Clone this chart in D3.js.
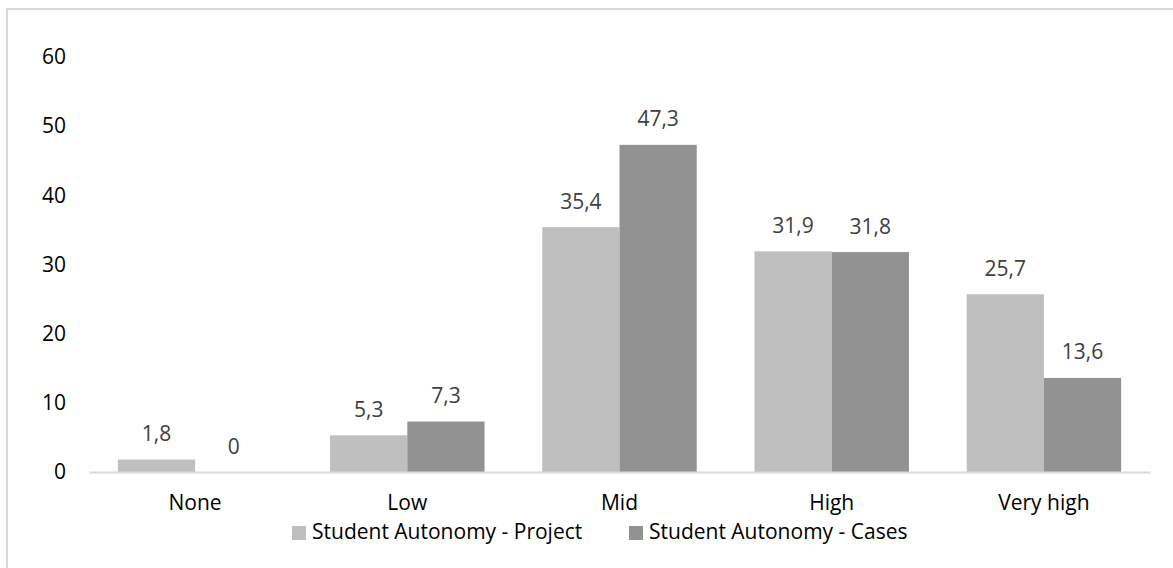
<!DOCTYPE html>
<html>
<head>
<meta charset="utf-8">
<script src="https://cdn.jsdelivr.net/npm/d3@7"></script>
<style>
  html, body { margin: 0; padding: 0; background: #fff; }
  svg { display: block; font-family: "Open Sans", "Noto Sans", sans-serif; }
</style>
</head>
<body>
<svg id="chart" width="1173" height="568"></svg>
<script>
// Autonomy levels and the share (%) per course format
const categories = ["None", "Low", "Mid", "High", "Very high"];
const seriesNames = ["Student Autonomy - Project", "Student Autonomy - Cases"];
const projectValues = [1.8, 5.3, 35.4, 31.9, 25.7];
const casesValues = [0, 7.3, 47.3, 31.8, 13.6];
const yTicks = [0, 10, 20, 30, 40, 50, 60];
const colors = ["#bfbfbf", "#929292"];

const series = [projectValues, casesValues];
const fmt = v => String(v).replace(".", ",");
const FONT = 21;

const svg = d3.select("#chart");
const W = 1173, H = 568;

// chart frame
svg.append("rect")
  .attr("x", 7).attr("y", 9)
  .attr("width", W + 10).attr("height", H + 10)
  .attr("fill", "#fff").attr("stroke", "#d9d9d9").attr("stroke-width", 2);

const plot = { left: 89, right: 1150, top: 57, bottom: 472 };

const x = d3.scaleBand().domain(categories).range([plot.left, plot.right]).paddingInner(0).paddingOuter(0);
const barW = x.bandwidth() * 0.364;
const y = d3.scaleLinear().domain([0, 60]).range([plot.bottom, plot.top]);

// y axis labels (no axis line)
const yAxis = d3.axisLeft(y).tickValues(yTicks).tickSize(0).tickPadding(0);
const gy = svg.append("g").attr("transform", `translate(66,0)`).call(yAxis);
gy.select(".domain").remove();
gy.selectAll("text").attr("font-size", FONT).attr("fill", "#000")
  .attr("font-family", "'Open Sans', sans-serif");

// bars with value labels
series.forEach((vals, si) => {
  const g = svg.append("g");
  g.selectAll("rect").data(vals).join("rect")
    .attr("x", (d, i) => x(categories[i]) + x.bandwidth() / 2 + (si - 1) * barW)
    .attr("y", d => y(d))
    .attr("width", barW)
    .attr("height", d => y(0) - y(d))
    .attr("fill", colors[si]);
  g.selectAll("text").data(vals).join("text")
    .attr("x", (d, i) => x(categories[i]) + x.bandwidth() / 2 + (si - 0.5) * barW)
    .attr("y", d => y(d) - 18.5)
    .attr("text-anchor", "middle")
    .attr("font-size", FONT)
    .attr("fill", "#404040")
    .text(d => fmt(d));
});

// x axis baseline and category labels
const xAxis = d3.axisBottom(x).tickSize(0).tickPadding(0);
const gx = svg.append("g").attr("transform", `translate(0,${plot.bottom})`).call(xAxis);
gx.select(".domain").attr("stroke", "#d9d9d9").attr("stroke-width", 2);
gx.selectAll("text").attr("font-size", FONT).attr("fill", "#000")
  .attr("font-family", "'Open Sans', sans-serif")
  .attr("dy", 0).attr("y", 38);

// legend
const legend = svg.append("g");
const legendX = [292, 629];
seriesNames.forEach((name, i) => {
  legend.append("rect")
    .attr("x", legendX[i]).attr("y", 526)
    .attr("width", 14).attr("height", 14)
    .attr("fill", colors[i]);
  legend.append("text")
    .attr("x", legendX[i] + 20).attr("y", 539)
    .attr("font-size", FONT).attr("fill", "#000")
    .text(name);
});
</script>
</body>
</html>
